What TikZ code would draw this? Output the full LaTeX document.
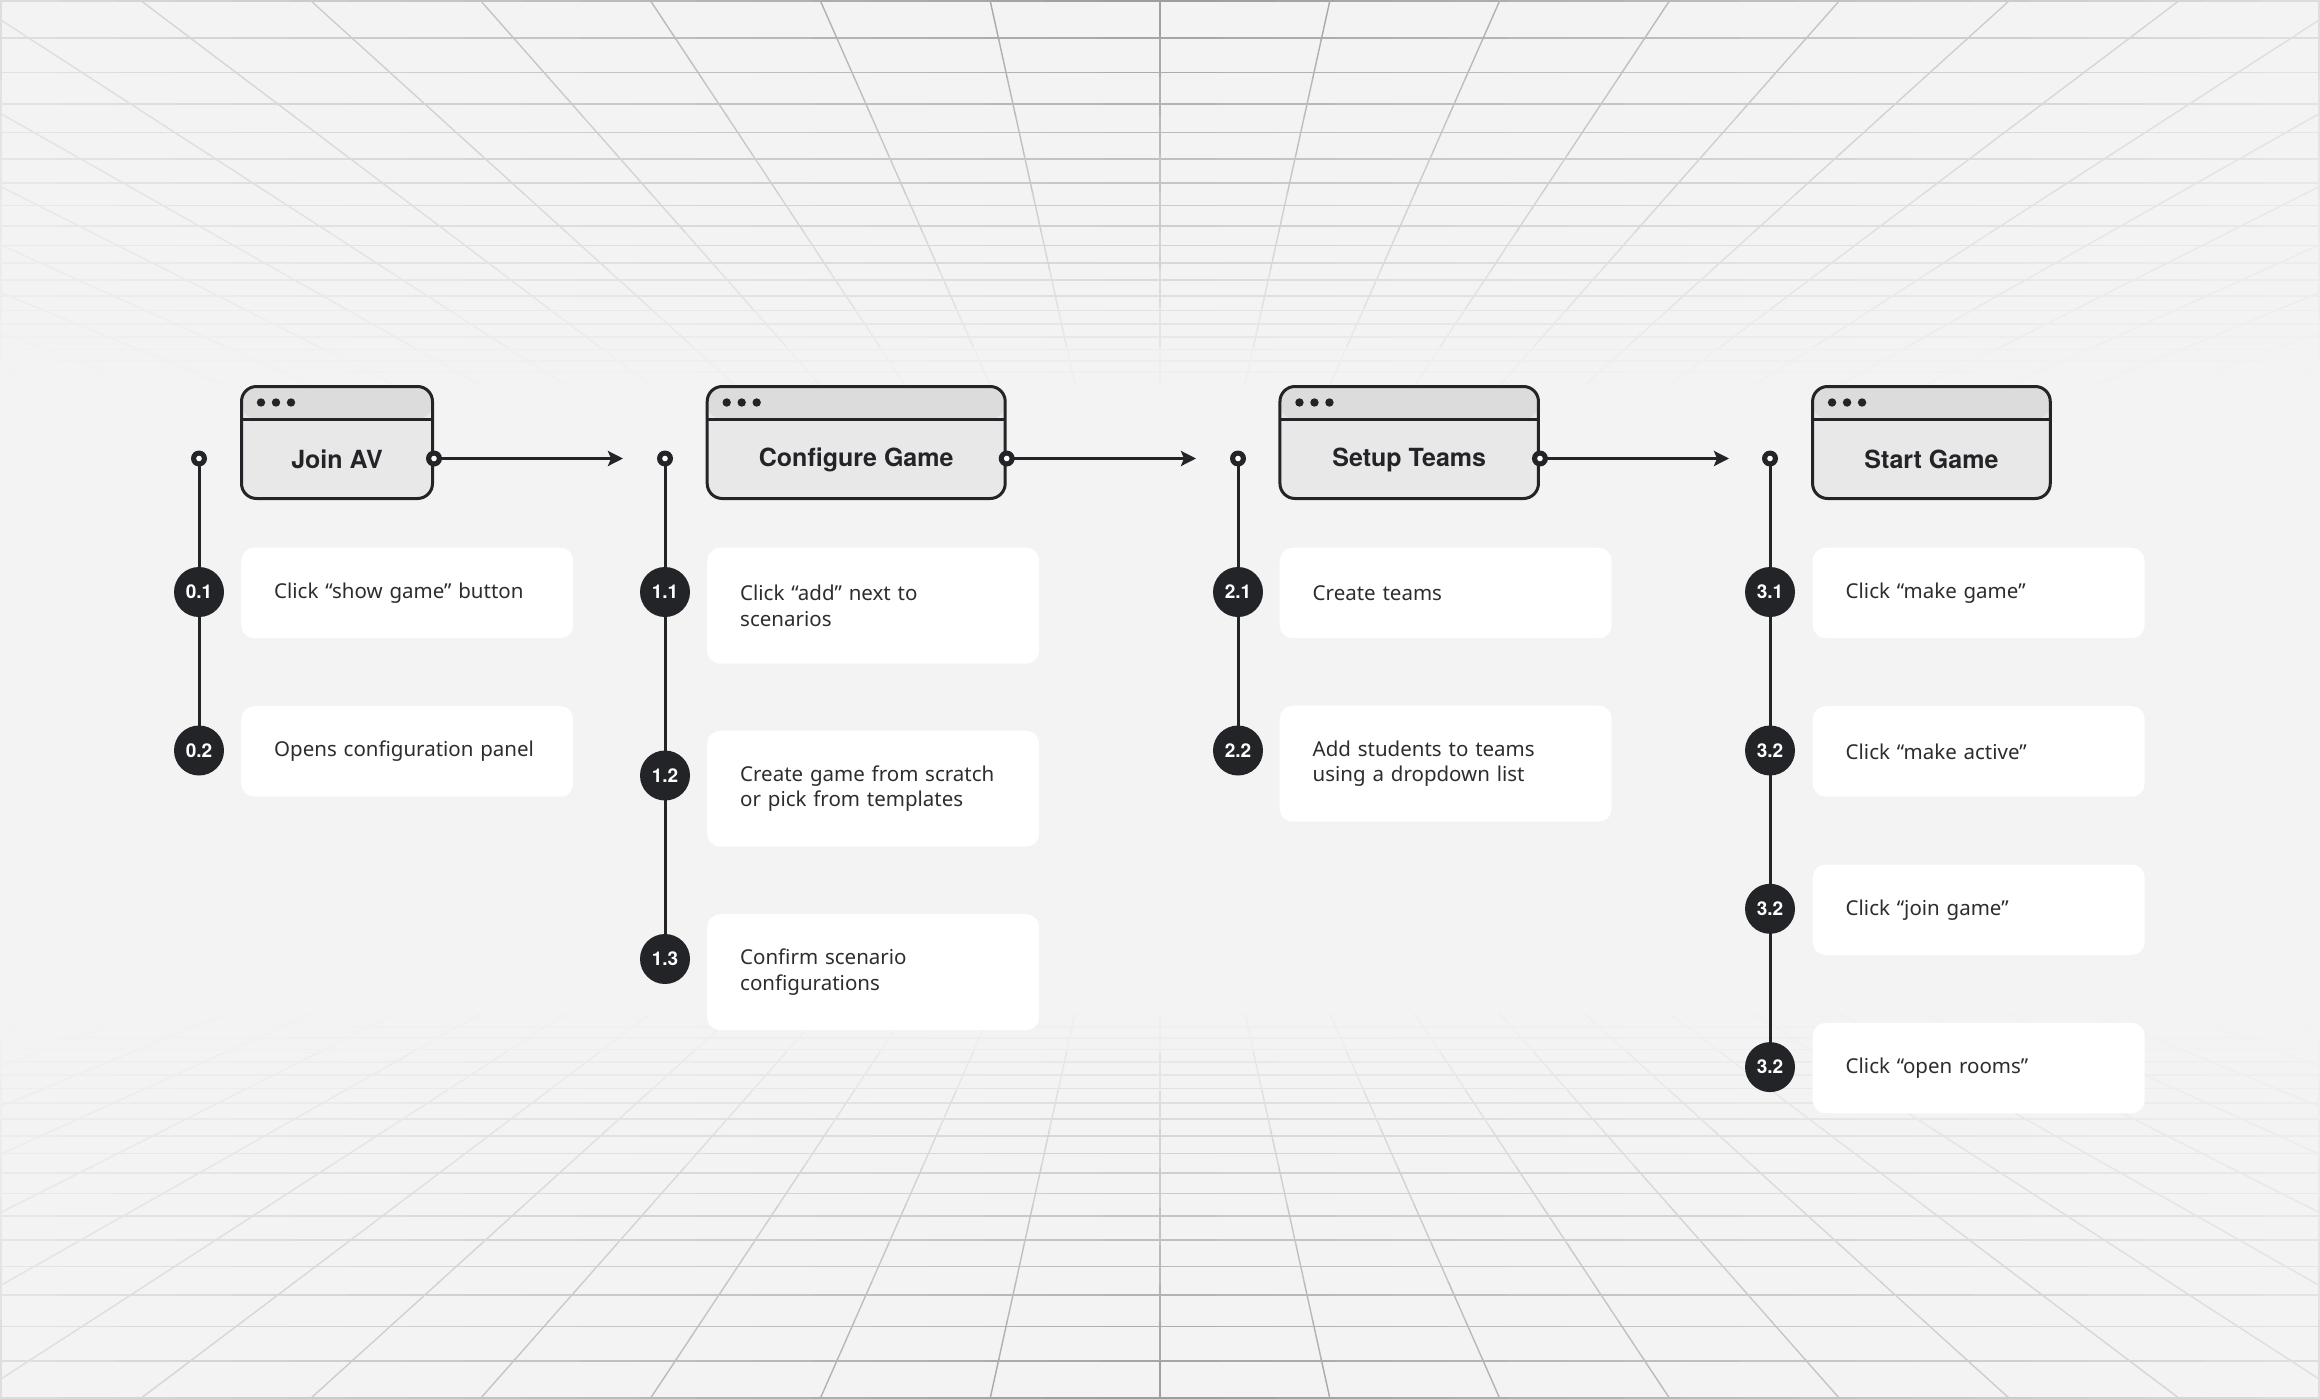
\documentclass[tikz,border=0pt]{standalone}
\usepackage{fontspec}
\setmainfont{Noto Sans}
\newfontfamily\headfont{TeX Gyre Heros}
\usetikzlibrary{arrows.meta,calc}
\definecolor{bgc}{RGB}{243,243,243}
\definecolor{gridc}{RGB}{150,150,150}
\definecolor{ink}{RGB}{35,36,39}
\definecolor{barc}{RGB}{220,220,220}
\definecolor{bodyc}{RGB}{232,232,232}
\definecolor{txtc}{RGB}{45,45,48}
\pgfdeclarelayer{bglayer}
\pgfdeclarelayer{linelayer}
\pgfsetlayers{bglayer,linelayer,main}
\tikzset{
  win/.style={draw=ink, line width=3pt, rounded corners=15pt, fill=bodyc,
    minimum height=112pt, inner sep=0pt,
    path picture={
      \fill[barc] (path picture bounding box.north west) rectangle ([yshift=-32.5pt]path picture bounding box.north east);
      \draw[ink, line width=3pt] ([yshift=-32.5pt]path picture bounding box.north west) -- ([yshift=-32.5pt]path picture bounding box.north east);
      \foreach \q in {0,1,2}{\fill[ink] ([xshift=19.5pt+15*\q pt, yshift=-16pt]path picture bounding box.north west) circle (4.2pt);}
    }},
  ttl/.style={font=\headfont\bfseries\fontsize{25}{30}\selectfont, text=ink, inner sep=0pt},
  ring/.style={circle, fill=ink, minimum size=16pt, inner sep=0pt,
    path picture={\fill[white] (path picture bounding box.center) circle (2.8pt);}},
  badge/.style={circle, fill=ink, minimum size=50pt, inner sep=0pt, text=white,
    font=\headfont\bfseries\fontsize{19}{22}\selectfont},
  card/.style={fill=white, rounded corners=13pt, anchor=north west, inner xsep=33pt, inner ysep=0pt,
    text width=266pt, align=left, text=txtc, font=\fontsize{20.5}{25.5}\selectfont},
  one/.style={minimum height=90.5pt},
  two/.style={minimum height=116pt},
  conn/.style={draw=ink, line width=3pt},
  flow/.style={draw=ink, line width=3pt, -{Stealth[length=15pt, width=15pt, inset=3pt]}},
}
\begin{document}
\begin{tikzpicture}[x=1pt,y=-1pt]
\useasboundingbox (0,0) rectangle (2320,1399);
\begin{pgfonlayer}{bglayer}
\fill[bgc] (0,0) rectangle (2320,1399);
\begin{scope}
\clip (0,0) rectangle (2320,1399);
% horizontal grid lines (ceiling and floor)
\foreach \k in {0,...,19}{
  \pgfmathsetmacro\yk{max(1,770-770/(1+0.051975*\k))}
  \pgfmathsetmacro\fy{max(0,1-\yk/390)}
  \pgfmathsetmacro\yf{1399-\yk}
  \foreach \i in {0,...,39}{
    \pgfmathsetmacro\xa{58*\i}
    \pgfmathsetmacro\xb{58*\i+58.5}
    \pgfmathtruncatemacro\D{95*\fy*(1-0.75*abs(\xa+29-1160)/1160)}
    \draw[gridc!\D!bgc, line width=1.7pt] (\xa,\yk) -- (\xb,\yk);
    \draw[gridc!\D!bgc, line width=1.7pt] (\xa,\yf) -- (\xb,\yf);
  }
}
% converging grid lines
\foreach \j in {-14,...,14}{
  \pgfmathsetmacro\xo{1160+170*\j}
  \foreach \s in {0,...,10}{
    \pgfmathsetmacro\ta{\s*0.05}
    \pgfmathsetmacro\tb{(\s+1)*0.05+0.002}
    \pgfmathsetmacro\tm{(\s+0.5)*0.05}
    \pgfmathsetmacro\xa{\xo+(1160-\xo)*\ta}
    \pgfmathsetmacro\xb{\xo+(1160-\xo)*\tb}
    \pgfmathsetmacro\xm{\xo+(1160-\xo)*\tm}
    \pgfmathsetmacro\ya{770*\ta}
    \pgfmathsetmacro\yb{770*\tb}
    \pgfmathsetmacro\ym{770*\tm}
    \pgfmathtruncatemacro\D{95*max(0,1-\ym/390)*(1-0.75*min(1,abs(\xm-1160)/1160))}
    \draw[gridc!\D!bgc, line width=1.4pt] (\xa,\ya) -- (\xb,\yb);
    \draw[gridc!\D!bgc, line width=1.4pt] (\xa,1399-\ya) -- (\xb,1399-\yb);
  }
}
% side edges
\foreach \s in {0,...,9}{
  \pgfmathsetmacro\ya{40*\s}
  \pgfmathsetmacro\yb{40*\s+41}
  \pgfmathtruncatemacro\D{25*max(0,1-(\ya+20)/390)}
  \draw[gridc!\D!bgc, line width=1.6pt] (1,\ya) -- (1,\yb);
  \draw[gridc!\D!bgc, line width=1.6pt] (2319,\ya) -- (2319,\yb);
  \draw[gridc!\D!bgc, line width=1.6pt] (1,1399-\ya) -- (1,1399-\yb);
  \draw[gridc!\D!bgc, line width=1.6pt] (2319,1399-\ya) -- (2319,1399-\yb);
}
\end{scope}
\end{pgfonlayer}

% ---------- windows ----------
\node[win, minimum width=191pt] (w0) at (337,442.5) {};
\node[win, minimum width=298pt] (w1) at (856.2,442.5) {};
\node[win, minimum width=258.5pt] (w2) at (1409.2,442.5) {};
\node[win, minimum width=237.7pt] (w3) at (1931.4,442.5) {};
\node[ttl] (t0) at ($(w0.center)+(0,17)$) {Join AV};
\node[ttl] (t1) at ($(w1.center)+(0,17)$) {Configure Game};
\node[ttl] (t2) at ($(w2.center)+(0,17)$) {Setup Teams};
\node[ttl] (t3) at ($(w3.center)+(0,17)$) {Start Game};

% ---------- rings ----------
\node[ring] (r0) at ($(w0.east)+(0,16)$) {};
\node[ring] (r1) at ($(w1.east)+(0,16)$) {};
\node[ring] (r2) at ($(w2.east)+(0,16)$) {};
\node[ring] (d0) at (199,458.5) {};
\node[ring] (d1) at (665,458.5) {};
\node[ring] (d2) at (1238,458.5) {};
\node[ring] (d3) at (1770,458.5) {};
\coordinate (a1) at (623,458.5);
\coordinate (a2) at (1196,458.5);
\coordinate (a3) at (1729,458.5);

% ---------- badges ----------
\node[badge] (b01) at (199,592) {0.1};
\node[badge] (b02) at (199,750.5) {0.2};
\node[badge] (b11) at (665,592) {1.1};
\node[badge] (b12) at (665,775.5) {1.2};
\node[badge] (b13) at (665,959) {1.3};
\node[badge] (b21) at (1238,592) {2.1};
\node[badge] (b22) at (1238,750.5) {2.2};
\node[badge] (b31) at (1770,592) {3.1};
\node[badge] (b32) at (1770,750.5) {3.2};
\node[badge] (b33) at (1770,908.8) {3.2};
\node[badge] (b34) at (1770,1067.1) {3.2};

% ---------- cards ----------
\node[card, one] (c01) at (241,547.5) {Click “show game” button};
\node[card, one] (c02) at (241,706) {Opens configuration panel};
\node[card, two] (c11) at (707,547.5) {Click “add” next to\\scenarios};
\node[card, two] (c12) at (707,730.5) {Create game from scratch\\or pick from templates};
\node[card, two] (c13) at (707,914) {Confirm scenario\\configurations};
\node[card, one] (c21) at (1279.5,547.5) {Create teams};
\node[card, two] (c22) at (1279.5,705.5) {Add students to teams\\using a dropdown list};
\node[card, one] (c31) at (1812.5,547.5) {Click “make game”};
\node[card, one] (c32) at (1812.5,706) {Click “make active”};
\node[card, one] (c33) at (1812.5,864.3) {Click “join game”};
\node[card, one] (c34) at (1812.5,1022.6) {Click “open rooms”};

% ---------- connectors ----------
\begin{pgfonlayer}{linelayer}
\draw[flow] (r0.center) -- (a1);
\draw[flow] (r1.center) -- (a2);
\draw[flow] (r2.center) -- (a3);
\draw[conn] (d0.center) -- (b02.center);
\draw[conn] (d1.center) -- (b13.center);
\draw[conn] (d2.center) -- (b22.center);
\draw[conn] (d3.center) -- (b34.center);
\end{pgfonlayer}
\end{tikzpicture}
\end{document}
